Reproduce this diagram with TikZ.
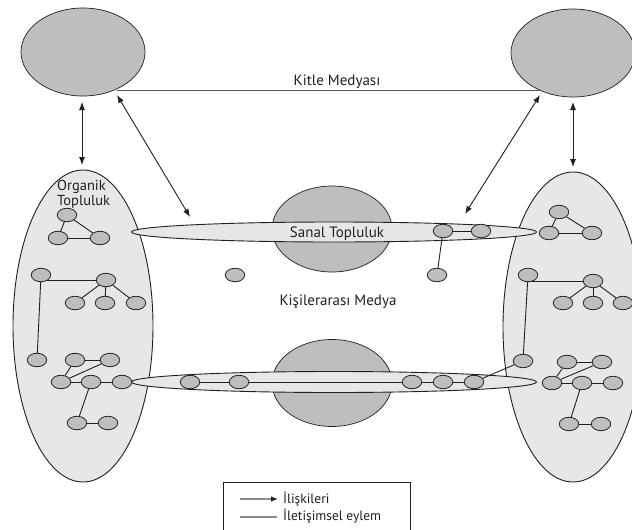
\documentclass[tikz,border=0pt]{standalone}
\usepackage{fontspec}
\setmainfont{PT Sans}
\usetikzlibrary{arrows.meta,shapes.geometric}
\definecolor{ink}{HTML}{231F20}
\definecolor{ngray}{HTML}{BCBEC0}
\definecolor{lgray}{HTML}{E6E7E8}
\definecolor{leggray}{HTML}{8A8C8E}
\pgfdeclarelayer{bg}
\pgfdeclarelayer{mid}
\pgfsetlayers{bg,mid,main}
\begin{document}
\begin{tikzpicture}[x=1pt,y=-1pt,
  sn/.style={ellipse,draw=ink,fill=ngray,line width=0.8pt,minimum width=19.5pt,minimum height=13.5pt,inner sep=0pt},
  big/.style={ellipse,draw=ink,fill=ngray,line width=0.7pt,inner sep=0pt},
  org/.style={ellipse,draw=ink,fill=lgray,line width=0.9pt,inner sep=0pt},
  band/.style={ellipse,draw=ink,fill=lgray,line width=0.9pt,inner sep=0pt},
  edge/.style={draw=ink,line width=0.9pt},
  rel/.style={draw=ink,line width=0.9pt,{Latex[length=8pt,width=6pt]}-{Latex[length=8pt,width=6pt]}},
  lbl/.style={font=\fontsize{15}{17}\selectfont,text=ink,inner sep=0pt,anchor=base},
  orglbl/.style={font=\fontsize{14.5}{12.5}\selectfont,text=ink,inner sep=0pt,align=left,anchor=base west},
  leglbl/.style={font=\fontsize{13.5}{15}\selectfont,text=ink,inner sep=0pt,anchor=base west}
]
\useasboundingbox (0,0) rectangle (632,530);
\clip (0,0) rectangle (632,530);

% background shapes
\begin{pgfonlayer}{bg}
\fill[white] (0,0) rectangle (632,530);
\node[org,minimum width=140pt,minimum height=312pt] (lo) at (83,326) {};
\node[org,minimum width=140pt,minimum height=310pt] (ro) at (573,327) {};
\node[big,minimum width=120pt,minimum height=86pt] (sc1) at (332,229) {};
\node[big,minimum width=120pt,minimum height=87pt] (sc2) at (332,383) {};
\node[band,minimum width=405pt,minimum height=20pt] (se1) at (334,232) {};
\node[band,minimum width=405pt,minimum height=21pt] (se2) at (334,382) {};
\end{pgfonlayer}

% mass media ellipses
\node[big,minimum width=124pt,minimum height=88pt] (tl) at (83,52) {};
\node[big,minimum width=124pt,minimum height=88pt] (tr) at (573,53) {};

% labels
\node[lbl] (kitle) at (337,85) {Kitle Medyası};
\node[lbl] (sanal) at (337,237) {Sanal Topluluk};
\node[lbl] (kisi) at (338,305) {Kişilerarası Medya};
\node[orglbl] (organik) at (57,205) {Organik\\Topluluk};

% left organic community
\node[sn] (lt1) at (67,215) {};
\node[sn] (lt2) at (58,238) {};
\node[sn] (lt3) at (100,238) {};
\node[sn] (lA) at (41,275) {};
\node[sn] (lB) at (106,280) {};
\node[sn] (lc1) at (75,303) {};
\node[sn] (lc2) at (105,303) {};
\node[sn] (lc3) at (136,303) {};
\node[sn] (lD) at (37,360) {};
\node[sn] (lE) at (75,360) {};
\node[sn] (lF) at (110,360) {};
\node[sn] (lG) at (61,382) {};
\node[sn] (lH) at (91,382) {};
\node[sn] (lI) at (122,382) {};
\node[sn] (lJ) at (77,423) {};
\node[sn] (lK) at (108,423) {};

% right organic community
\node[sn] (rt1) at (559,212) {};
\node[sn] (rt2) at (549,233) {};
\node[sn] (rt3) at (592,233) {};
\node[sn] (rA) at (528,275) {};
\node[sn] (rB) at (593,281) {};
\node[sn] (rc1) at (563,303) {};
\node[sn] (rc2) at (593,303) {};
\node[sn] (rc3) at (623,303) {};
\node[sn] (rD) at (523,361) {};
\node[sn] (rE) at (567,362) {};
\node[sn] (rF) at (602,362) {};
\node[sn] (rG) at (552,383) {};
\node[sn] (rH) at (582,383) {};
\node[sn] (rI) at (613,383) {};
\node[sn] (rJ) at (569,424) {};
\node[sn] (rK) at (601,424) {};

% virtual community and interpersonal
\node[sn] (s1) at (443,231) {};
\node[sn] (s2) at (481,231) {};
\node[sn] (s3) at (437,275) {};
\node[sn] (s4) at (235,275) {};
\node[sn] (b1) at (190,382) {};
\node[sn] (b2) at (239,382) {};
\node[sn] (b3) at (412,382) {};
\node[sn] (b4) at (443,382) {};
\node[sn] (b5) at (474,382) {};

\begin{pgfonlayer}{mid}
\draw[edge] (lt1) -- (lt2);
\draw[edge] (lt1) -- (lt3);
\draw[edge] (lt2) -- (lt3);
\draw[edge] (lA) -- (lD);
\draw[edge] (lA |- lB) -- (lB);
\draw[edge] (lB) -- (lc1);
\draw[edge] (lB) -- (lc2);
\draw[edge] (lB) -- (lc3);
\draw[edge] (lE) -- (lF);
\draw[edge] (lG) -- (lH);
\draw[edge] (lH) -- (lI);
\draw[edge] (lG) -- (lE);
\draw[edge] (lG) -- (lF);
\draw[edge] (lH) -- (lJ);
\draw[edge] (lJ) -- (lK);

\draw[edge] (rt1) -- (rt2);
\draw[edge] (rt1) -- (rt3);
\draw[edge] (rt2) -- (rt3);
\draw[edge] (rA) -- (rD);
\draw[edge] (rA |- rB) -- (rB);
\draw[edge] (rB) -- (rc1);
\draw[edge] (rB) -- (rc2);
\draw[edge] (rB) -- (rc3);
\draw[edge] (rE) -- (rF);
\draw[edge] (rG) -- (rH);
\draw[edge] (rH) -- (rI);
\draw[edge] (rG) -- (rE);
\draw[edge] (rG) -- (rF);
\draw[edge] (rH) -- (rJ);
\draw[edge] (rJ) -- (rK);

\draw[edge] (s1) -- (s2);
\draw[edge] (s1) -- (s3);
\draw[edge] (b1) -- (b2) -- (b3) -- (b4) -- (b5);
\draw[edge] (b5) -- (rD);
\end{pgfonlayer}

% mass media line
\coordinate (km1) at (117,90);
\coordinate (km2) at (540,90);
\draw[draw=ink!75,line width=0.8pt] (km1) -- (km2);

% relation arrows
\coordinate (v1s) at (82,102);
\coordinate (v1e) at (82,165);
\coordinate (v2s) at (573,102);
\coordinate (v2e) at (573,167);
\coordinate (d1s) at (117,95);
\coordinate (d1e) at (190,217);
\coordinate (d2s) at (540,95);
\coordinate (d2e) at (465,214);
\draw[rel] (v1s) -- (v1e);
\draw[rel] (v2s) -- (v2e);
\draw[rel] (d1s) -- (d1e);
\draw[rel] (d2s) -- (d2e);

% legend
\node[draw=ink,line width=0.7pt,minimum width=187pt,minimum height=70pt,anchor=north west,inner sep=0pt] (legbox) at (223,482) {};
\coordinate (g1s) at (240,499);
\coordinate (g1e) at (278,499);
\coordinate (g2s) at (240,517);
\coordinate (g2e) at (277,517);
\draw[draw=leggray,line width=1.2pt,-{Latex[length=7pt,width=5.5pt,color=ink]}] (g1s) -- (g1e);
\draw[draw=leggray,line width=1.2pt] (g2s) -- (g2e);
\node[leglbl] (leg1) at (283,503) {İlişkileri};
\node[leglbl] (leg2) at (283,520) {İletişimsel eylem};
\end{tikzpicture}
\end{document}
